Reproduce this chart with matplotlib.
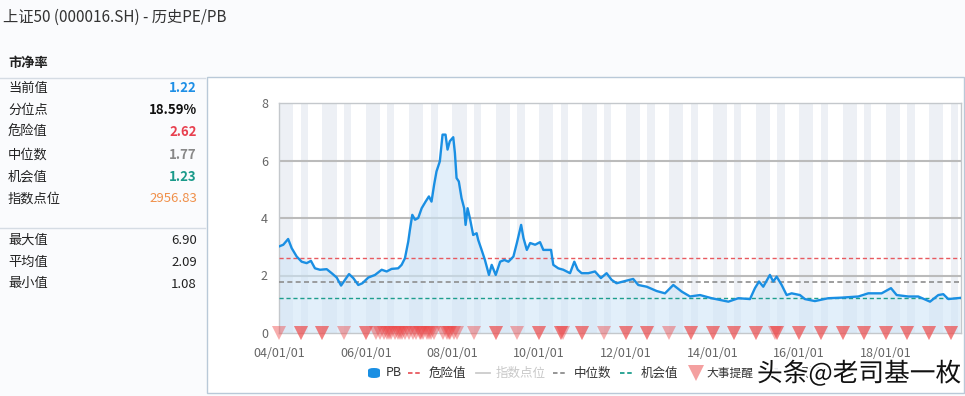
import matplotlib
matplotlib.use("Agg")
import matplotlib.pyplot as plt
import matplotlib.patheffects as pe
from matplotlib.patches import FancyBboxPatch, Rectangle
from matplotlib.lines import Line2D
import pandas as pd
import numpy as np

plt.rcParams['font.family'] = ['Noto Sans CJK SC', 'DejaVu Sans']

# ---------------- data ----------------
pb_dates = ["2004-01-01", "2004-02-06", "2004-03-18", "2004-04-17", "2004-05-29", "2004-07-10",
            "2004-08-21", "2004-09-26", "2004-10-30", "2004-12-11", "2005-02-06", "2005-03-20",
            "2005-05-01", "2005-06-07", "2005-07-10", "2005-08-13", "2005-09-18", "2005-10-30",
            "2005-12-03", "2006-01-23", "2006-03-20", "2006-05-15", "2006-06-26", "2006-08-07",
            "2006-10-01", "2006-10-30", "2006-11-27", "2006-12-25", "2007-01-08", "2007-01-28",
            "2007-02-20", "2007-03-19", "2007-04-17", "2007-05-20", "2007-06-17", "2007-07-09",
            "2007-07-31", "2007-08-20", "2007-09-17", "2007-10-10", "2007-11-04", "2007-11-21",
            "2007-12-10", "2008-01-08", "2008-01-22", "2008-02-05", "2008-02-24", "2008-03-18",
            "2008-04-09", "2008-04-21", "2008-05-08", "2008-05-27", "2008-06-24", "2008-07-23",
            "2008-08-05", "2008-09-03", "2008-10-01", "2008-11-04", "2008-11-27", "2008-12-31",
            "2009-02-06", "2009-03-14", "2009-04-17", "2009-05-29", "2009-06-27", "2009-08-02",
            "2009-08-22", "2009-09-19", "2009-10-17", "2009-11-28", "2010-01-08", "2010-02-05",
            "2010-04-11", "2010-04-30", "2010-06-11", "2010-07-23", "2010-09-18", "2010-10-24",
            "2010-11-22", "2010-12-25", "2011-02-19", "2011-04-16", "2011-06-05", "2011-07-23",
            "2011-09-03", "2011-10-15", "2011-12-09", "2012-03-03", "2012-04-15", "2012-06-25",
            "2012-09-17", "2012-11-26", "2013-02-04", "2013-04-16", "2013-06-25", "2013-09-17",
            "2013-12-24", "2014-05-14", "2014-08-06", "2014-11-12", "2014-12-24", "2015-01-27",
            "2015-03-04", "2015-04-29", "2015-05-27", "2015-06-25", "2015-08-06", "2015-09-17",
            "2015-10-29", "2016-01-07", "2016-02-18", "2016-05-12", "2016-09-02", "2016-12-24",
            "2017-05-13", "2017-08-05", "2017-11-25", "2018-02-12", "2018-04-01", "2018-07-08",
            "2018-09-30", "2019-01-07", "2019-03-18", "2019-04-29", "2019-06-10", "2019-09-16"]
pb_values = [3.01, 3.07, 3.27, 2.95, 2.66, 2.48,
             2.43, 2.51, 2.25, 2.20, 2.22, 2.08,
             1.93, 1.65, 1.85, 2.05, 1.91, 1.67,
             1.73, 1.93, 2.02, 2.20, 2.14, 2.23,
             2.25, 2.37, 2.60, 3.18, 3.59, 4.11,
             3.94, 4.00, 4.34, 4.57, 4.75, 4.57,
             5.16, 5.62, 5.97, 6.90, 6.90, 6.38,
             6.67, 6.81, 6.26, 5.39, 5.27, 4.69,
             4.34, 3.76, 4.34, 4.00, 3.41, 3.47,
             3.24, 2.89, 2.54, 2.02, 2.37, 2.02,
             2.48, 2.54, 2.48, 2.66, 3.13, 3.76,
             3.30, 2.89, 3.13, 3.07, 3.16, 2.89,
             2.89, 2.37, 2.25, 2.20, 2.08, 2.48,
             2.20, 2.08, 2.08, 2.14, 1.91, 2.08,
             1.85, 1.73, 1.79, 1.88, 1.67, 1.61,
             1.46, 1.38, 1.67, 1.44, 1.27, 1.32,
             1.21, 1.09, 1.21, 1.18, 1.56, 1.79,
             1.61, 2.02, 1.79, 1.96, 1.67, 1.32,
             1.38, 1.32, 1.18, 1.11, 1.21, 1.23,
             1.27, 1.38, 1.38, 1.56, 1.32, 1.27,
             1.27, 1.09, 1.32, 1.35, 1.18, 1.22]

danger_value = 2.62
median_value = 1.77
chance_value = 1.23

event_dates = ["2004-01-01", "2004-07-01", "2004-07-01", "2005-01-01", "2005-01-01", "2005-07-01",
               "2006-01-01", "2006-01-01",
               "2006-04-01", "2006-05-01", "2006-06-01", "2006-07-01", "2006-08-01", "2006-09-01",
               "2006-10-01", "2006-11-01", "2006-12-01", "2007-01-01", "2007-02-01", "2007-03-01",
               "2007-04-01", "2007-05-01", "2007-06-01", "2007-07-01", "2007-08-01",
               "2007-04-15", "2007-06-15", "2006-07-15", "2006-10-15",
               "2007-10-15", "2007-11-15", "2007-12-15", "2008-01-15", "2008-02-10", "2007-12-01",
               "2008-07-01", "2009-01-01", "2009-01-01", "2009-07-01",
               "2010-01-01", "2010-01-01", "2010-07-01", "2010-07-01", "2010-07-20",
               "2011-01-01", "2011-01-01", "2011-07-01",
               "2012-01-01", "2012-01-01", "2012-07-01", "2012-07-01", "2013-01-01",
               "2013-07-01", "2013-07-01", "2014-01-01", "2014-01-01", "2014-07-01", "2014-07-01",
               "2015-01-01", "2015-01-01", "2015-06-15", "2015-07-01", "2015-07-01",
               "2016-01-01", "2016-01-01", "2016-07-01", "2016-07-01", "2017-01-01", "2017-01-01",
               "2017-07-01", "2017-07-01", "2018-01-01", "2018-01-01", "2018-07-01", "2018-07-01",
               "2019-01-01", "2019-01-01", "2019-07-01", "2019-07-01"]

band_years = list(range(2004, 2020))
yticks = [0, 2, 4, 6, 8]
xtick_years = [2004, 2006, 2008, 2010, 2012, 2014, 2016, 2018]

panel_labels = ["当前值", "分位点", "危险值", "中位数", "机会值", "指数点位"]
panel_values = ["1.22", "18.59%", "2.62", "1.77", "1.23", "2956.83"]
stat_labels = ["最大值", "平均值", "最小值"]
stat_values = ["6.90", "2.09", "1.08"]

# ---------------- figure ----------------
W, H = 965, 396
fig = plt.figure(figsize=(W / 100, H / 100), dpi=100)
fig.patch.set_facecolor("#fafbfd")


def fx(px):
    return px / W


def fy(py):
    return 1 - py / H


# title
fig.text(fx(3), fy(17), "上证50 (000016.SH) - 历史PE/PB", fontsize=11, color="#333333",
         va="center", ha="left")

# left panel
fig.text(fx(8), fy(63), "市净率", fontsize=9.5, color="#222222", fontweight="bold",
         va="center", ha="left")
fig.add_artist(Line2D([fx(0), fx(205)], [fy(78), fy(78)], color="#d5dce4", lw=1))
fig.add_artist(Line2D([fx(0), fx(205)], [fy(228), fy(228)], color="#d5dce4", lw=1))

value_styles = [("#1e8fe6", "bold"), ("#111111", "bold"), ("#e8404f", "bold"),
                ("#888888", "bold"), ("#1a9a8a", "bold"), ("#f0904a", "normal")]
row_y = [88, 110, 132, 155, 177, 199]
for lab, val, (col, wt), yy in zip(panel_labels, panel_values, value_styles, row_y):
    fig.text(fx(8), fy(yy), lab, fontsize=9.5, color="#222222", va="center", ha="left")
    fig.text(fx(197), fy(yy), val, fontsize=9.5, color=col, fontweight=wt, va="center", ha="right")
for lab, val, yy in zip(stat_labels, stat_values, [240, 262, 284]):
    fig.text(fx(8), fy(yy), lab, fontsize=9.5, color="#222222", va="center", ha="left")
    fig.text(fx(197), fy(yy), val, fontsize=9.5, color="#222222", va="center", ha="right")

# chart panel box
fig.add_artist(Rectangle((fx(207), fy(393)), fx(965 - 207 - 1), (393 - 77) / H,
                         facecolor="white", edgecolor="#b9c9d8", lw=1, zorder=0))

# axes
ax = fig.add_axes([fx(279), fy(333), fx(961 - 279), (333 - 103) / H])
ax.set_facecolor("white")

dates = pd.to_datetime(pb_dates)
ax.set_xlim(pd.Timestamp("2004-01-01"), pd.Timestamp("2019-09-25"))
ax.set_ylim(0, 8)

# report-season bands
for yr in band_years:
    ax.axvspan(pd.Timestamp(f"{yr}-01-01"), pd.Timestamp(f"{yr}-04-30"),
               color="#edf0f5", lw=0, zorder=0)
    ax.axvspan(pd.Timestamp(f"{yr}-07-01"), pd.Timestamp(f"{yr}-08-31"),
               color="#edf0f5", lw=0, zorder=0)

for yv in yticks[1:4]:
    ax.axhline(yv, color="#bbbbbb", lw=1.5, zorder=1)

ax.fill_between(dates, pb_values, 0, color="#cfe5f7", alpha=0.6, lw=0, zorder=2)
ax.plot(dates, pb_values, color="#1a8fe3", lw=1.7, zorder=4)

ax.axhline(danger_value, color="#e85a60", lw=1, ls=(0, (3, 2)), zorder=3)
ax.axhline(median_value, color="#8e8e8e", lw=1.2, ls=(0, (3, 2)), zorder=3)
ax.axhline(chance_value, color="#1e9e8e", lw=1, ls=(0, (3, 2)), zorder=3)

ev = pd.to_datetime(event_dates)
ax.plot(ev, np.zeros(len(ev)), ls="none", marker="v", markersize=10,
        color="#ee4a4a", alpha=0.45, markeredgewidth=0, clip_on=False, zorder=5)

for s in ax.spines.values():
    s.set_color("#c4c8cc")
    s.set_linewidth(1)

ax.set_yticks(yticks)
ax.set_yticklabels([str(v) for v in yticks])
ax.set_xticks([pd.Timestamp(f"{y}-01-01") for y in xtick_years])
ax.set_xticklabels([f"{y % 100:02d}/01/01" for y in xtick_years])
ax.tick_params(length=0, labelsize=9, labelcolor="#666666")
ax.tick_params(axis="y", pad=8)
ax.tick_params(axis="x", pad=10)

# legend (manual)
ly = fy(373)
fig.add_artist(FancyBboxPatch((fx(368), fy(378)), fx(12), 10 / H,
                              boxstyle="round,pad=0,rounding_size=0.006",
                              facecolor="#1a8fe3", edgecolor="none"))
fig.text(fx(386), ly, "PB", fontsize=9, color="#333333", va="center")
items = [
    (408, "#e85a60", (0, (2.5, 1.5)), "危险值", "#333333", 429),
    (476, "#cccccc", "-", "指数点位", "#c8c8c8", 496),
    (553, "#8e8e8e", (0, (2.5, 1.5)), "中位数", "#333333", 574),
    (620, "#1e9e8e", (0, (2.5, 1.5)), "机会值", "#333333", 641),
]
for x0, col, ls, lab, tcol, tx in items:
    fig.add_artist(Line2D([fx(x0), fx(x0 + 14)], [ly, ly], color=col, lw=1.3, ls=ls))
    fig.text(fx(tx), ly, lab, fontsize=9, color=tcol, va="center")
fig.add_artist(Line2D([fx(696)], [ly], marker="v", markersize=11, color="#f4a0a0",
                      markeredgewidth=0))
fig.text(fx(706), ly, "大事提醒", fontsize=8.5, color="#333333", va="center")
fig.add_artist(Rectangle((fx(766), fy(378)), fx(12), 10 / H, facecolor="#e6e9ee",
                         edgecolor="none"))
fig.text(fx(784), ly, "年报期", fontsize=9, color="#333333", va="center")

# watermark
fig.text(fx(757), fy(374), "头条@老司基一枚", fontsize=18.5, color="#111111", va="center",
         ha="left", path_effects=[pe.withStroke(linewidth=3, foreground="white")])

fig.savefig("out.png", dpi=100, facecolor=fig.get_facecolor())
